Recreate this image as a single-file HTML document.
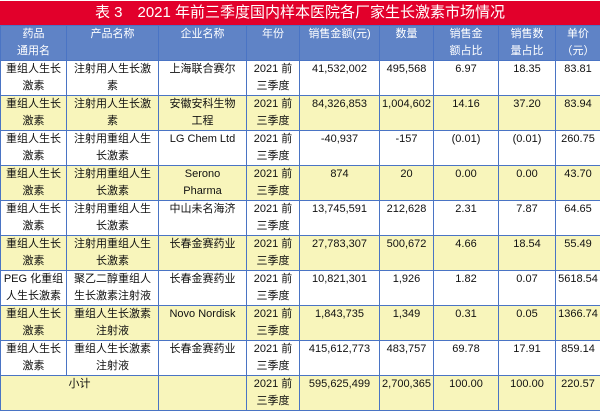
<!DOCTYPE html>
<html><head><meta charset="utf-8"><style>
html,body{margin:0;padding:0;background:#fff;width:600px;height:405px;overflow:hidden}
body{font-family:"Liberation Sans","Noto Sans CJK SC",sans-serif;}
#title{position:absolute;left:0;top:1px;width:600px;height:24px;background:#e2002b;color:#fff;font-size:15px;line-height:24px;text-align:center}
table{position:absolute;left:0;top:25px;border-collapse:collapse;table-layout:fixed;width:600px;font-size:11px;color:#111}
td,th{border:1.5px solid #4a74c4;padding:0 1px;text-align:center;vertical-align:top;line-height:17px;overflow:hidden;white-space:nowrap}
th{background:#5f83c6;color:#fff;font-weight:normal;height:33px;}
tr.y td{background:#f8f5bb}
tr td{height:32px;padding-top:0}
</style></head><body>
<div id="title">表 3　2021 年前三季度国内样本医院各厂家生长激素市场情况</div>
<table>
<colgroup><col style="width:66px"><col style="width:92px"><col style="width:88px"><col style="width:53px"><col style="width:80px"><col style="width:54px"><col style="width:65px"><col style="width:57px"><col style="width:45px"></colgroup>
<tr><th>药品<br>通用名</th><th>产品名称</th><th>企业名称</th><th>年份</th><th>销售金额(元)</th><th>数量</th><th>销售金<br>额占比</th><th>销售数<br>量占比</th><th>单价<br>（元）</th></tr>
<tr><td>重组人生长<br>激素</td><td>注射用人生长激<br>素</td><td>上海联合赛尔</td><td>2021 前<br>三季度</td><td>41,532,002</td><td>495,568</td><td>6.97</td><td>18.35</td><td>83.81</td></tr>
<tr class="y"><td>重组人生长<br>激素</td><td>注射用人生长激<br>素</td><td>安徽安科生物<br>工程</td><td>2021 前<br>三季度</td><td>84,326,853</td><td>1,004,602</td><td>14.16</td><td>37.20</td><td>83.94</td></tr>
<tr><td>重组人生长<br>激素</td><td>注射用重组人生<br>长激素</td><td>LG Chem Ltd</td><td>2021 前<br>三季度</td><td>-40,937</td><td>-157</td><td>(0.01)</td><td>(0.01)</td><td>260.75</td></tr>
<tr class="y"><td>重组人生长<br>激素</td><td>注射用重组人生<br>长激素</td><td>Serono<br>Pharma</td><td>2021 前<br>三季度</td><td>874</td><td>20</td><td>0.00</td><td>0.00</td><td>43.70</td></tr>
<tr><td>重组人生长<br>激素</td><td>注射用重组人生<br>长激素</td><td>中山未名海济</td><td>2021 前<br>三季度</td><td>13,745,591</td><td>212,628</td><td>2.31</td><td>7.87</td><td>64.65</td></tr>
<tr class="y"><td>重组人生长<br>激素</td><td>注射用重组人生<br>长激素</td><td>长春金赛药业</td><td>2021 前<br>三季度</td><td>27,783,307</td><td>500,672</td><td>4.66</td><td>18.54</td><td>55.49</td></tr>
<tr><td>PEG 化重组<br>人生长激素</td><td>聚乙二醇重组人<br>生长激素注射液</td><td>长春金赛药业</td><td>2021 前<br>三季度</td><td>10,821,301</td><td>1,926</td><td>1.82</td><td>0.07</td><td>5618.54</td></tr>
<tr class="y"><td>重组人生长<br>激素</td><td>重组人生长激素<br>注射液</td><td>Novo Nordisk</td><td>2021 前<br>三季度</td><td>1,843,735</td><td>1,349</td><td>0.31</td><td>0.05</td><td>1366.74</td></tr>
<tr><td>重组人生长<br>激素</td><td>重组人生长激素<br>注射液</td><td>长春金赛药业</td><td>2021 前<br>三季度</td><td>415,612,773</td><td>483,757</td><td>69.78</td><td>17.91</td><td>859.14</td></tr>
<tr class="y"><td colspan="2">小计</td><td></td><td>2021 前<br>三季度</td><td>595,625,499</td><td>2,700,365</td><td>100.00</td><td>100.00</td><td>220.57</td></tr>
</table>
</body></html>
